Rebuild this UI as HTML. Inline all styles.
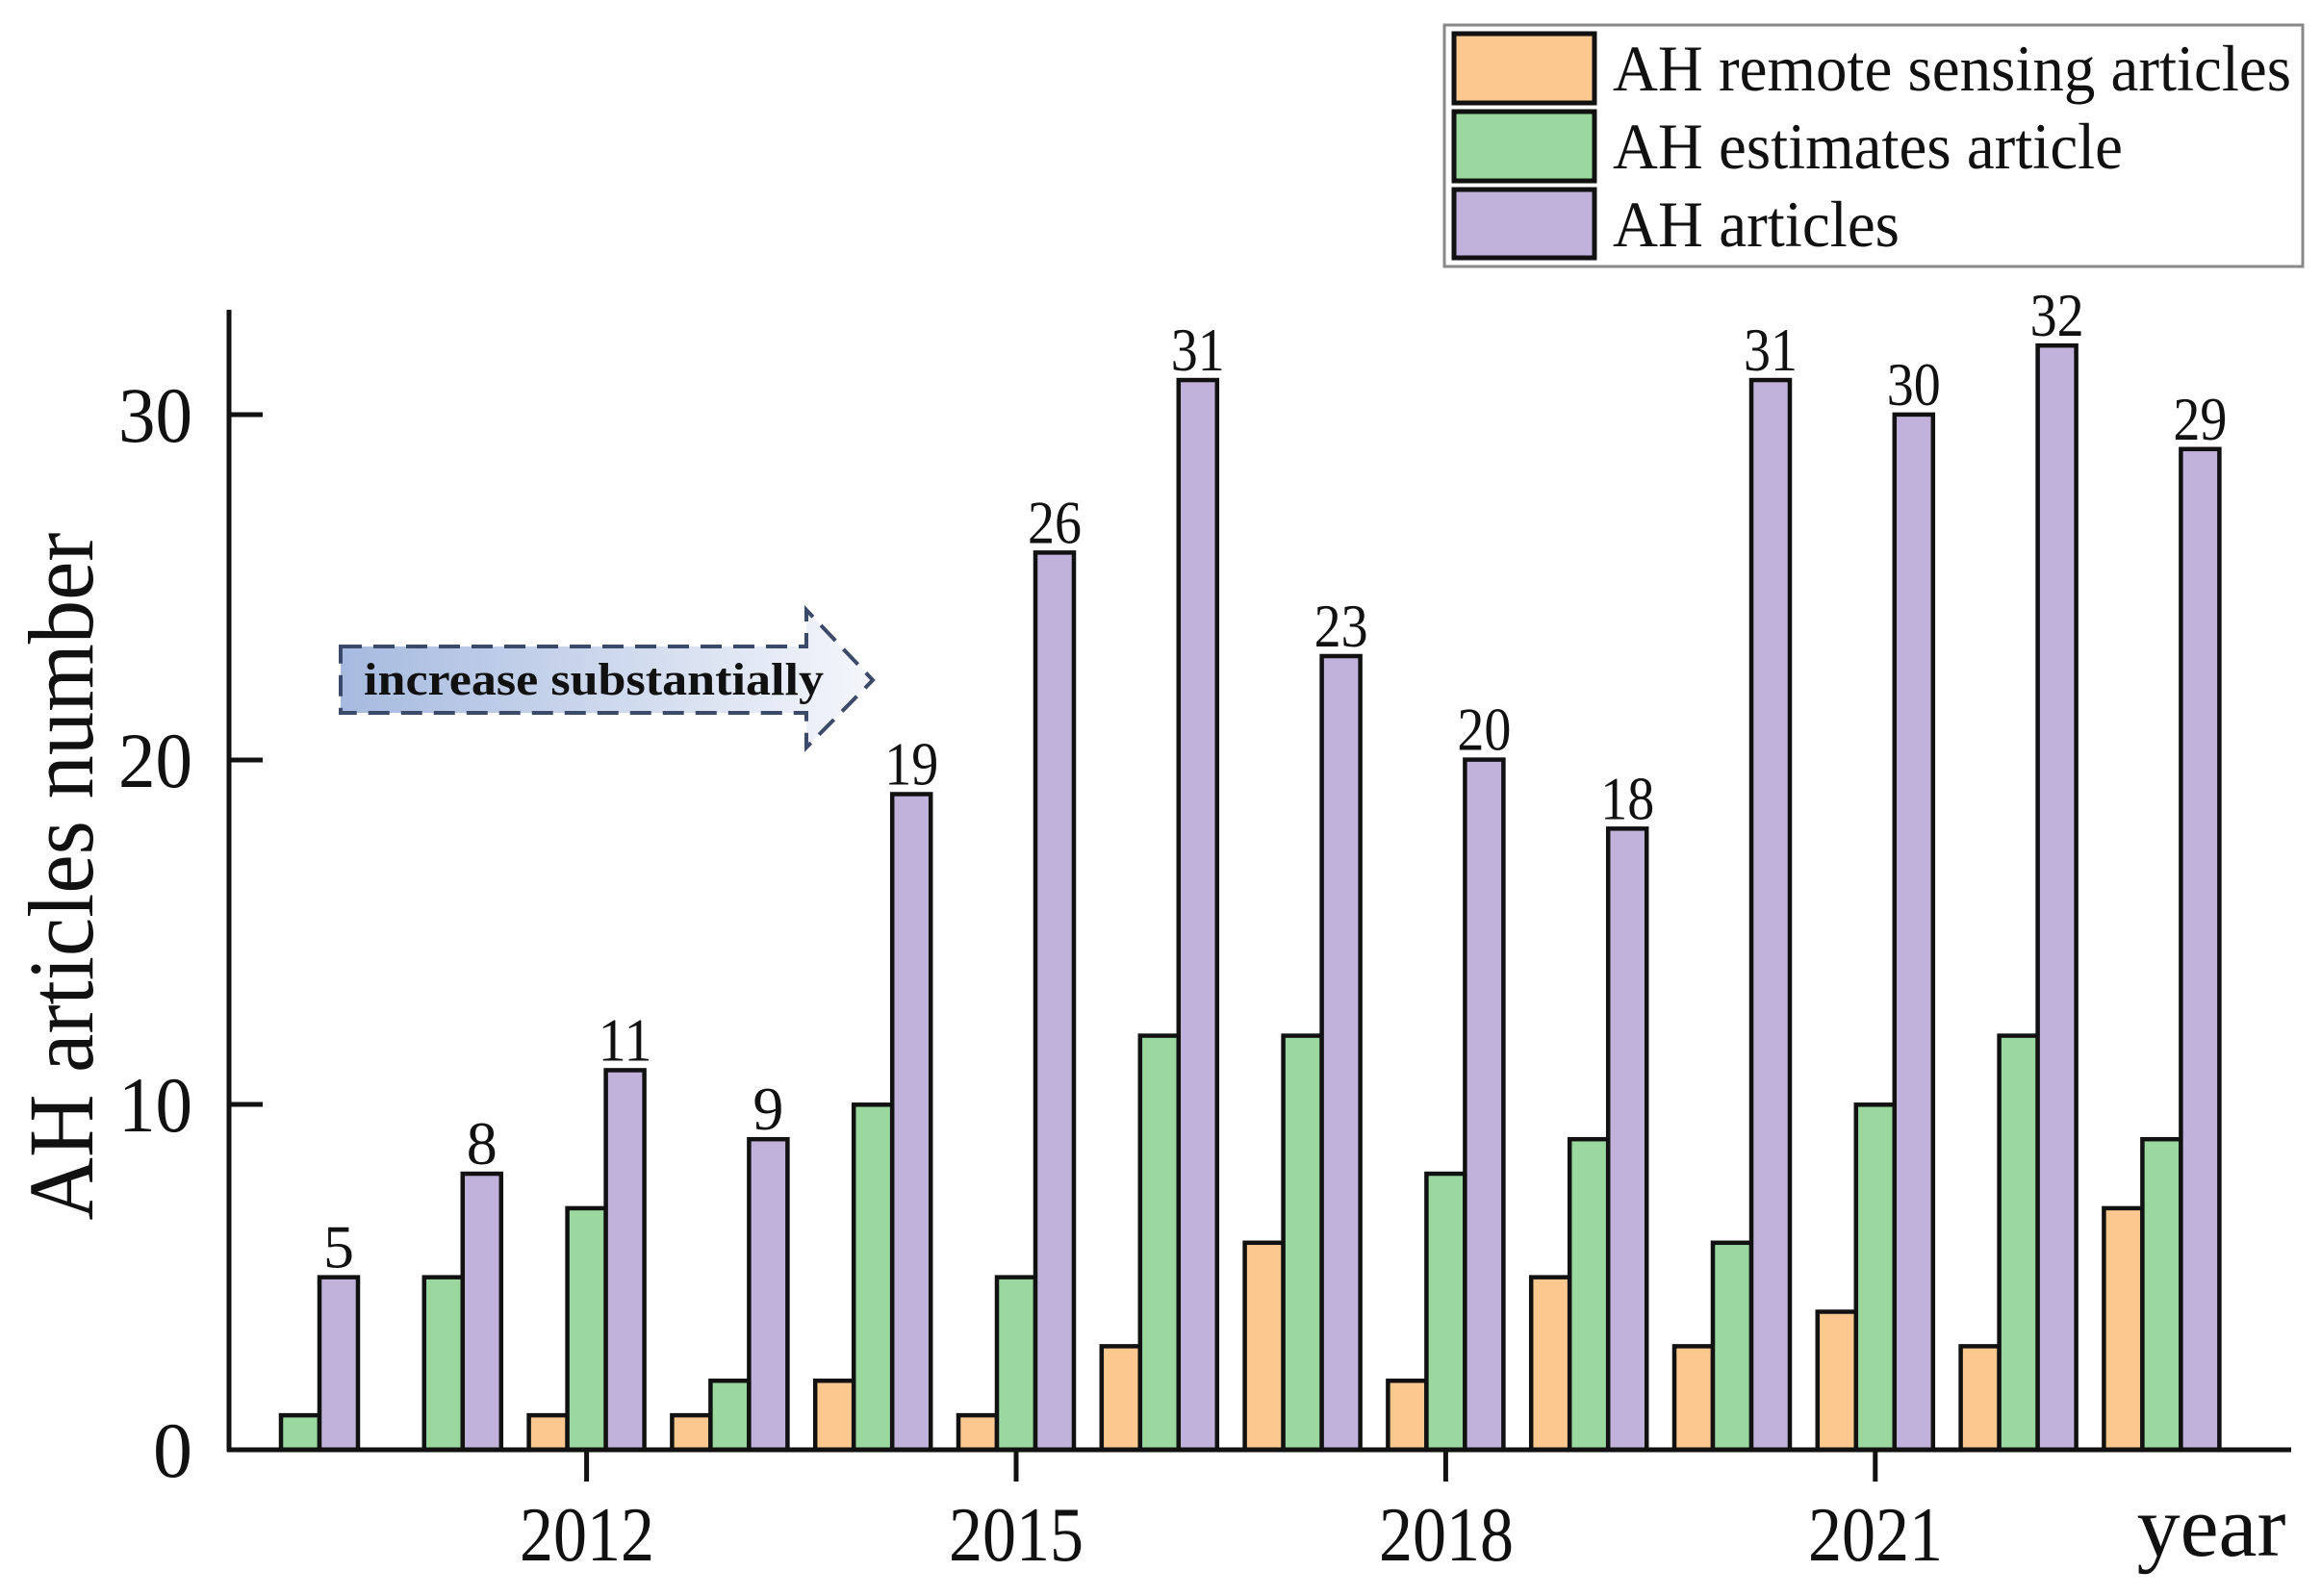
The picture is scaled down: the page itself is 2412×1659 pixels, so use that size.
<!DOCTYPE html>
<html><head><meta charset="utf-8"><style>html,body{margin:0;padding:0;background:#fff}svg{display:block}</style></head>
<body>
<svg width="2412" height="1659" viewBox="0 0 2412 1659" xmlns="http://www.w3.org/2000/svg" font-family="'Liberation Serif', serif">
<defs>
<linearGradient id="ag" x1="0" x2="1" y1="0" y2="0">
<stop offset="0" stop-color="#a6badf"/><stop offset="1" stop-color="#f4f6fb"/>
</linearGradient>
</defs>
<rect width="2412" height="1659" fill="#fff"/>
<!-- legend -->
<rect x="1501" y="26" width="892" height="251" fill="#fff" stroke="#888" stroke-width="3"/>
<rect x="1511" y="35" width="146" height="72" fill="#fcc890" stroke="#111" stroke-width="5"/>
<rect x="1511" y="116" width="146" height="72" fill="#9ad8a0" stroke="#111" stroke-width="5"/>
<rect x="1511" y="197" width="146" height="71" fill="#c0b2da" stroke="#111" stroke-width="5"/>
<g font-size="68" fill="#111">
<text x="1676" y="94" textLength="705" lengthAdjust="spacingAndGlyphs">AH remote sensing articles</text>
<text x="1676" y="175" textLength="530" lengthAdjust="spacingAndGlyphs">AH estimates article</text>
<text x="1676" y="256" textLength="298" lengthAdjust="spacingAndGlyphs">AH articles</text>
</g>
<!-- arrow -->
<path d="M354 672 L838 672 L838 634 L907 707 L838 777 L838 741 L354 741 Z" fill="url(#ag)" stroke="#3c4a6a" stroke-width="4" stroke-dasharray="22 12"/>
<text x="378" y="722" font-size="48" font-weight="bold" fill="#111" textLength="478" lengthAdjust="spacingAndGlyphs">increase substantially</text>
<!-- y label -->
<text transform="translate(96,911) rotate(-90)" text-anchor="middle" font-size="96" fill="#111" textLength="715" lengthAdjust="spacingAndGlyphs">AH articles number</text>
<!-- bars -->
<g id="bars" stroke="#111" stroke-width="4.5"></g>
<g id="labels" font-size="64" fill="#111" text-anchor="middle"></g>
<!-- axes -->
<g stroke="#111" stroke-width="5">
<line x1="238" y1="322" x2="238" y2="1509"/>
<line x1="236" y1="1507" x2="2381" y2="1507"/>
<line x1="238" y1="1507" x2="273" y2="1507"/>
<line x1="238" y1="1148" x2="273" y2="1148"/>
<line x1="238" y1="790" x2="273" y2="790"/>
<line x1="238" y1="431" x2="273" y2="431"/>
</g>
<g id="xt" stroke="#111" stroke-width="5"></g>
<g font-size="82" fill="#111" text-anchor="end">
<text x="200" y="1535">0</text>
<text x="200" y="1176" textLength="77" lengthAdjust="spacingAndGlyphs">10</text>
<text x="200" y="818" textLength="77" lengthAdjust="spacingAndGlyphs">20</text>
<text x="200" y="459" textLength="77" lengthAdjust="spacingAndGlyphs">30</text>
</g>
<g font-size="80" fill="#111" text-anchor="middle">
<text x="610" y="1622" textLength="140" lengthAdjust="spacingAndGlyphs">2012</text>
<text x="1056" y="1622" textLength="140" lengthAdjust="spacingAndGlyphs">2015</text>
<text x="1503" y="1622" textLength="140" lengthAdjust="spacingAndGlyphs">2018</text>
<text x="1949" y="1622" textLength="140" lengthAdjust="spacingAndGlyphs">2021</text>
</g>
<text x="2298" y="1617" font-size="90" fill="#111" text-anchor="middle">year</text>
<script>
var o=[0,0,1,1,2,1,3,6,2,5,3,4,3,7],g=[1,5,7,2,10,5,12,12,8,9,6,10,12,9],p=[5,8,11,9,19,26,31,23,20,18,31,30,32,29];
var cols=['#fcc890','#9ad8a0','#c0b2da'],NS='http://www.w3.org/2000/svg';
var B=document.getElementById('bars'),L=document.getElementById('labels'),X=document.getElementById('xt');
var y0=1507,u=35.87,w=40;
for(var i=0;i<14;i++){var x0=252+i*148.8;[o,g,p].forEach(function(s,k){var v=s[i];if(!v)return;var r=document.createElementNS(NS,'rect');r.setAttribute('x',x0+k*w);r.setAttribute('y',y0-v*u);r.setAttribute('width',w);r.setAttribute('height',v*u);r.setAttribute('fill',cols[k]);B.appendChild(r);});
var t=document.createElementNS(NS,'text');t.setAttribute('x',x0+2.5*w);t.setAttribute('y',y0-p[i]*u-10);t.textContent=p[i];if(p[i]>9){t.setAttribute('textLength','56');t.setAttribute('lengthAdjust','spacingAndGlyphs');}L.appendChild(t);}
[2,5,8,11].forEach(function(i){var x=252+i*148.8+60;var l=document.createElementNS(NS,'line');l.setAttribute('x1',x);l.setAttribute('x2',x);l.setAttribute('y1',1507);l.setAttribute('y2',1540);X.appendChild(l);});
</script>
</svg>
</body></html>
